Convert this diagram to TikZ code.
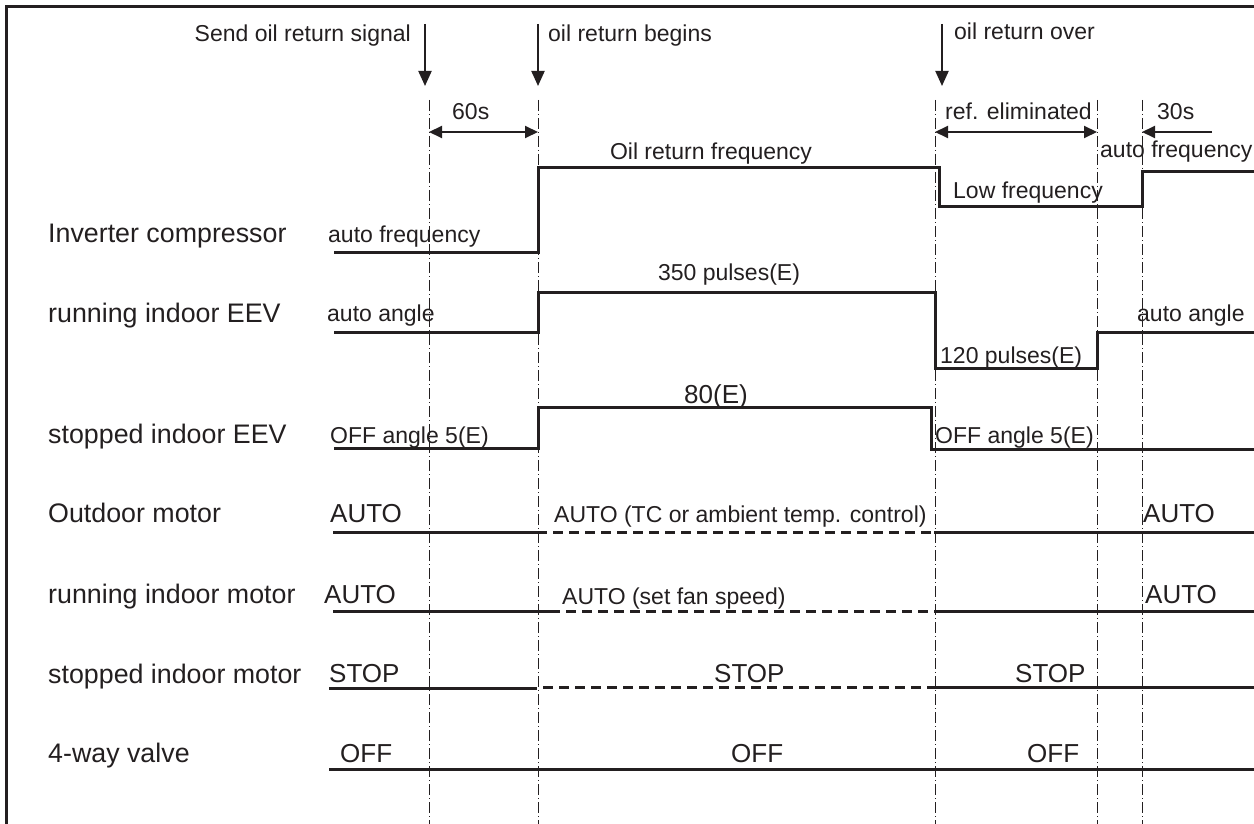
\documentclass[tikz,border=0pt]{standalone}
\usepackage{fontspec}
\setmainfont{Liberation Sans}
\usetikzlibrary{arrows.meta}
\definecolor{ink}{HTML}{231F20}
\begin{document}
\begin{tikzpicture}[x=1pt,y=-1pt, color=ink,
  sig/.style={line width=3pt, line join=miter},
  dsig/.style={line width=3pt, dash pattern=on 10pt off 6pt},
  guide/.style={line width=1pt, dash pattern=on 11pt off 3pt on 1pt off 3pt},
  frame/.style={line width=3pt},
  evt/.style={line width=2pt, -{Triangle[length=15pt,width=13pt]}},
  dimarr/.style={line width=2pt, {Triangle[length=13pt,width=12pt]}-{Triangle[length=13pt,width=12pt]}},
  onearr/.style={line width=2pt, -{Triangle[length=13pt,width=12pt]}},
  rowlab/.style={anchor=base west, inner sep=0pt, font=\fontsize{26.8}{30}\selectfont},
  lab/.style={anchor=base west, inner sep=0pt, font=\fontsize{23}{27}\selectfont},
  biglab/.style={anchor=base west, inner sep=0pt, font=\fontsize{26}{30}\selectfont},
  labc/.style={anchor=base, inner sep=0pt, font=\fontsize{23}{27}\selectfont},
]
\useasboundingbox (0,0) rectangle (1254,824);
% frame
\draw[frame] (6,824) -- (6,7) -- (1254,7);
% guide coordinates
\foreach \n/\x in {ga/429, gb/538, gc/935, gd/1097, ge/1142}{
  \coordinate (\n top) at (\x,100);
  \coordinate (\n bot) at (\x,824);
}
\foreach \n in {ga,gb,gc,gd,ge}{ \draw[guide] (\n top) -- (\n bot); }

% event arrows
\coordinate (e1s) at (425,24); \coordinate (e1e) at (425,86);
\coordinate (e2s) at (538,24); \coordinate (e2e) at (538,86);
\coordinate (e3s) at (942,24); \coordinate (e3e) at (942,86);
\draw[evt] (e1s) -- (e1e);
\draw[evt] (e2s) -- (e2e);
\draw[evt] (e3s) -- (e3e);
\node[lab, anchor=base east] (tsend) at (411,42) {Send oil return signal};
\node[lab] (tbegin) at (548,42) {oil return begins};
\node[lab] (tover) at (954,40) {oil return over};

% dimension arrows
\coordinate (d1a) at (429,132); \coordinate (d1b) at (538,132);
\coordinate (d2a) at (935,132); \coordinate (d2b) at (1097,132);
\coordinate (d3a) at (1212,132); \coordinate (d3b) at (1142,132);
\draw[dimarr] (d1a) -- (d1b);
\draw[dimarr] (d2a) -- (d2b);
\draw[onearr] (d3a) -- (d3b);
\node[lab] (t60) at (452,120) {60s};
\node[lab] (tref) at (945,120) {ref. eliminated};
\node[lab] (t30) at (1157,120) {30s};

% row labels
\node[rowlab] (r1) at (48,242) {Inverter compressor};
\node[rowlab] (r2) at (48,322) {running indoor EEV};
\node[rowlab] (r3) at (48,443) {stopped indoor EEV};
\node[rowlab] (r4) at (48,522) {Outdoor motor};
\node[rowlab] (r5) at (48,603) {running indoor motor};
\node[rowlab] (r6) at (48,683) {stopped indoor motor};
\node[rowlab] (r7) at (48,762) {4-way valve};

% Inverter compressor
\draw[sig] (334,252) -- (538,252) -- (538,168) -- (939,168) -- (939,207) -- (1142,207) -- (1142,172) -- (1254,172);
\node[lab] (c1) at (328,242) {auto frequency};
\node[labc] (c2) at (711,160) {Oil return frequency};
\node[lab] (c3) at (953,199) {Low frequency};
\node[lab] (c4) at (1100,158) {auto frequency};

% running indoor EEV
\draw[sig] (334,332) -- (538,332) -- (538,292) -- (935,292) -- (935,368) -- (1097,368) -- (1097,332) -- (1254,332);
\node[lab] (v1) at (327,321) {auto angle};
\node[labc] (v2) at (729,280) {350 pulses(E)};
\node[lab] (v3) at (940,363) {120 pulses(E)};
\node[lab] (v4) at (1137,321) {auto angle};

% stopped indoor EEV
\draw[sig] (334,448) -- (538,448) -- (538,407) -- (931,407) -- (931,449) -- (1254,449);
\node[lab] (s1) at (330,443) {OFF angle 5(E)};
\node[labc, font=\fontsize{26}{30}\selectfont] (s2) at (716,403) {80(E)};
\node[lab] (s3) at (935,443) {OFF angle 5(E)};

% Outdoor motor
\draw[sig] (333,532) -- (537,532);
\draw[dsig] (537,532) -- (934,532);
\draw[sig] (934,532) -- (1254,532);
\node[biglab] (o1) at (330,522) {AUTO};
\node[lab] (o2) at (554,522) {AUTO (TC or ambient temp. control)};
\node[biglab] (o3) at (1143,522) {AUTO};

% running indoor motor
\draw[sig] (333,611) -- (550,611);
\draw[dsig] (550,611) -- (934,611);
\draw[sig] (934,611) -- (1254,611);
\node[biglab] (m1) at (324,603) {AUTO};
\node[lab] (m2) at (562,604) {AUTO (set fan speed)};
\node[biglab] (m3) at (1145,603) {AUTO};

% stopped indoor motor
\draw[sig] (329,688) -- (537,688);
\draw[dsig] (543,687) -- (934,687);
\draw[sig] (934,687) -- (1254,687);
\node[biglab] (p1) at (329,682) {STOP};
\node[biglab] (p2) at (714,682) {STOP};
\node[biglab] (p3) at (1015,682) {STOP};

% 4-way valve
\draw[sig] (329,769) -- (1254,769);
\node[biglab] (w1) at (340,762) {OFF};
\node[biglab] (w2) at (731,762) {OFF};
\node[biglab] (w3) at (1027,762) {OFF};
\end{tikzpicture}
\end{document}
